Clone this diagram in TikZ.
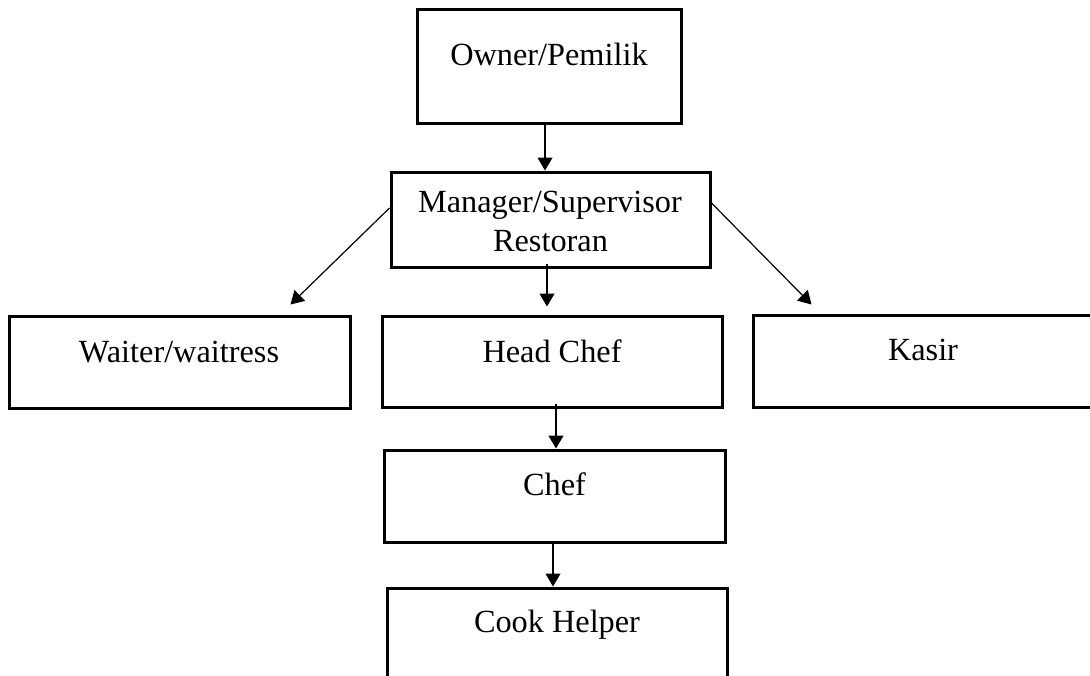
\documentclass[tikz,border=0pt]{standalone}
\usepackage{fontspec}
\setmainfont{Liberation Serif}
\usetikzlibrary{arrows.meta,calc}
\tikzset{
  box/.style={draw=black, line width=3pt, rectangle, inner sep=0pt, fill=none},
  lbl/.style={anchor=base, inner sep=0pt, font=\fontsize{32.3}{39}\selectfont},
  conn/.style={draw=black, line width=1.2pt, -{Triangle[length=13pt,width=15pt]}}
}
\begin{document}
\begin{tikzpicture}[x=1pt,y=-1pt]
\useasboundingbox (0,0) rectangle (1090,675);
\clip (0,0) rectangle (1090,675);
% boxes
\node[box, minimum width=264pt, minimum height=114pt] (owner) at (549,66) {};
\node[box, minimum width=319pt, minimum height=95pt] (manager) at (550.5,219.5) {};
\node[box, minimum width=341pt, minimum height=92pt] (waiter) at (179.5,362) {};
\node[box, minimum width=340pt, minimum height=91pt] (head) at (552,361.5) {};
\node[box, minimum width=347pt, minimum height=92pt] (kasir) at (926.5,361) {};
\node[box, minimum width=341pt, minimum height=92pt] (chef) at (554.5,496) {};
\node[box, minimum width=340pt, minimum height=102pt] (cook) at (557,639) {};
% texts
\node[lbl] (ownerT) at (549,65) {Owner/Pemilik};
\node[lbl] (managerT1) at (550,212) {Manager/Supervisor};
\node[lbl] (managerT2) at (550.5,251) {Restoran};
\node[lbl] (waiterT) at (179,362) {Waiter/waitress};
\node[lbl] (headT) at (552,362) {Head Chef};
\node[lbl] (kasirT) at (923,360) {Kasir};
\node[lbl] (chefT) at (554.5,495) {Chef};
\node[lbl] (cookT) at (557,632) {Cook Helper};
% connector end points
\coordinate (wEnd) at ($(waiter.north west)+(283,-10)$);
\coordinate (kEnd) at ($(kasir.north west)+(60,-9)$);
% connectors
\draw[conn] ($(owner.south)+(-4,0)$) -- ($(manager.north)+(-5.5,0)$);
\draw[conn] ($(manager.south)+(-3.5,-5)$) -- ($(head.north)+(-5,-8)$);
\draw[conn] ($(manager.west)+(0,-11.5)$) -- (wEnd);
\draw[conn] ($(manager.east)+(0,-16.5)$) -- (kEnd);
\draw[conn] ($(head.south)+(4,-5)$) -- ($(chef.north)+(1.5,0)$);
\draw[conn] ($(chef.south)+(-1.5,0)$) -- ($(cook.north)+(-4,0)$);
\end{tikzpicture}
\end{document}
